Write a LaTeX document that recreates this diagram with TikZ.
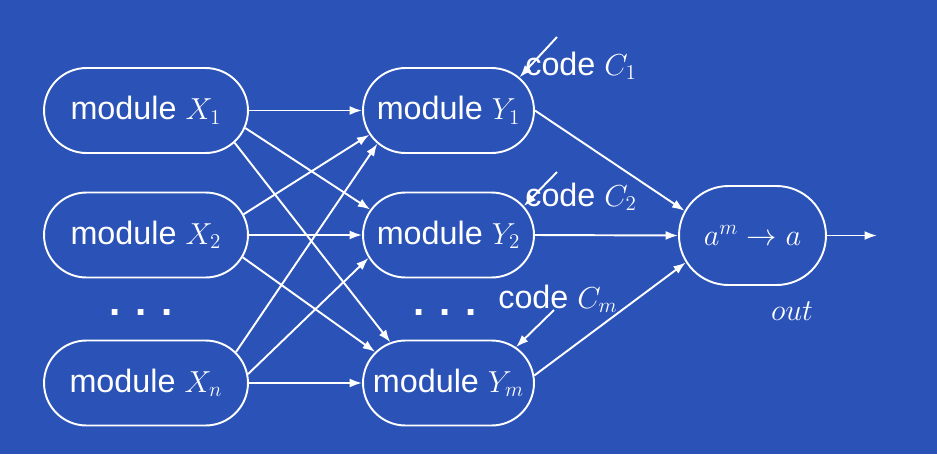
\documentclass[tikz,border=0pt]{standalone}
\usepackage{fontspec}
\setmainfont{Liberation Sans}
\usetikzlibrary{shapes.misc,arrows.meta}
\definecolor{bgblue}{RGB}{42,82,183}
\begin{document}
\begin{tikzpicture}[x=0.02cm,y=-0.02cm,
  mod/.style={rounded rectangle, draw=white, line width=1.1pt, minimum height=1.7cm, inner sep=0pt, text=white, font=\fontsize{18.4}{22}\selectfont},
  xmod/.style={mod, minimum width=4.08cm},
  ymod/.style={mod, minimum width=3.42cm},
  conn/.style={draw=white, line width=1.1pt, -{Latex[length=2.5mm,width=1.8mm]}},
  lab/.style={text=white, font=\fontsize{18.4}{22}\selectfont, inner sep=0pt},
  dots/.style={text=white, font=\fontsize{23}{28}\selectfont\bfseries, inner sep=0pt, anchor=base}]
\fill[bgblue] (0,0) rectangle (937,454);
\useasboundingbox (0,0) rectangle (937,454);
% left column
\node[xmod] (X1) at (146,110.5) {module $X_1$};
\node[xmod] (X2) at (146,235) {module $X_2$};
\node[xmod] (Xn) at (146,383) {module $X_n$};
\node[dots] (dx) at (141,315.5) {. . .};
% middle column
\node[ymod] (Y1) at (448.5,110.5) {module $Y_1$};
\node[ymod] (Y2) at (448.5,235) {module $Y_2$};
\node[ymod] (Ym) at (448.5,383) {module $Y_m$};
\node[dots] (dy) at (445,315.5) {. . .};
% output
\node[mod, minimum width=2.94cm, minimum height=1.98cm] (out) at (752.5,235.5) {$a^m\to a$};
\node[lab, anchor=base] (outl) at (792,320) {$out$};
\coordinate (oend) at (877,235.5);
% code labels
\node[lab, anchor=base west] (c1) at (525,75) {code $C_1$};
\node[lab, anchor=base west] (c2) at (525,206) {code $C_2$};
\node[lab, anchor=base west] (cm) at (498,308) {code $C_m$};
\coordinate (c1s) at (557,37);
\coordinate (c2s) at (557,172);
\coordinate (cms) at (554,310);
% X -> Y
\draw[conn] (X1.east) -- (Y1.west);
\draw[conn] (X1.-10) -- (Y2.162.5);
\draw[conn] (X1.-20) -- (Ym.145);
\draw[conn] (X2.12) -- (Y1.-163);
\draw[conn] (X2.east) -- (Y2.west);
\draw[conn] (X2.-13) -- (Ym.157);
\draw[conn] (Xn.19) -- (Y1.-155.5);
\draw[conn] (Xn.5) -- (Y2.-164);
\draw[conn] (Xn.east) -- (Ym.west);
% Y -> out
\draw[conn] (Y1.east) -- (out.160);
\draw[conn] (Y2.east) -- (out.west);
\draw[conn] (Ym.5) -- (out.-158.5);
\draw[conn] (out.east) -- (oend);
% codes
\draw[conn] (c1s) -- (Y1.25);
\draw[conn] (c2s) -- (Y2.21.5);
\draw[conn] (cms) -- (Ym.28);
\end{tikzpicture}
\end{document}
